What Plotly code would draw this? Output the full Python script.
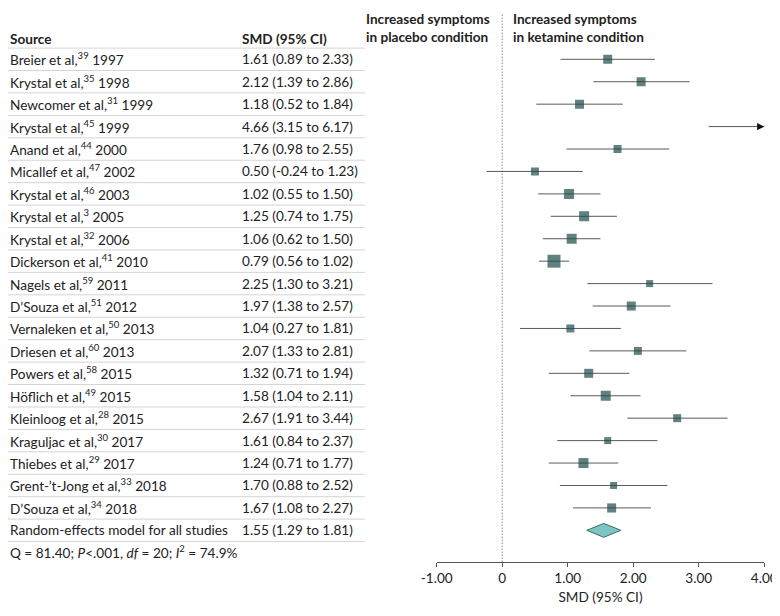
import plotly.graph_objects as go

# ---- data -------------------------------------------------------------
AUTHORS = [
    "Breier et al,", "Krystal et al,", "Newcomer et al,", "Krystal et al,",
    "Anand et al,", "Micallef et al,", "Krystal et al,", "Krystal et al,",
    "Krystal et al,", "Dickerson et al,", "Nagels et al,", "D\u2019Souza et al,",
    "Vernaleken et al,", "Driesen et al,", "Powers et al,", "H\u00f6flich et al,",
    "Kleinloog et al,", "Kraguljac et al,", "Thiebes et al,",
    "Grent-\u2019t-Jong et al,", "D\u2019Souza et al,",
]
REFS = ["39", "35", "31", "45", "44", "47", "46", "3", "32", "41", "59", "51",
        "50", "60", "58", "49", "28", "30", "29", "33", "34"]
YEARS = ["1997", "1998", "1999", "1999", "2000", "2002", "2003", "2005", "2006",
         "2010", "2011", "2012", "2013", "2013", "2015", "2015", "2015", "2017",
         "2017", "2018", "2018"]
SMD = [1.61, 2.12, 1.18, 4.66, 1.76, 0.50, 1.02, 1.25, 1.06, 0.79, 2.25, 1.97,
       1.04, 2.07, 1.32, 1.58, 2.67, 1.61, 1.24, 1.70, 1.67]
CI_LO = [0.89, 1.39, 0.52, 3.15, 0.98, -0.24, 0.55, 0.74, 0.62, 0.56, 1.30, 1.38,
         0.27, 1.33, 0.71, 1.04, 1.91, 0.84, 0.71, 0.88, 1.08]
CI_HI = [2.33, 2.86, 1.84, 6.17, 2.55, 1.23, 1.50, 1.75, 1.50, 1.02, 3.21, 2.57,
         1.81, 2.81, 1.94, 2.11, 3.44, 2.37, 1.77, 2.52, 2.27]
# square size (study weight), px
WEIGHT_PX = [9, 9, 9, 8, 8, 8, 10, 10, 10, 13, 7, 9, 8, 8, 9, 10, 8, 7, 10, 7, 9]

POOLED = ("Random-effects model for all studies", 1.55, 1.29, 1.81)
HETERO = "Q = 81.40; <i>P</i><.001, <i>df</i> = 20; <i>I</i><sup>2</sup> = 74.9%"

TICK_VALS = [-1, 0, 1, 2, 3, 4]
TICK_TEXT = ["-1.00", "0", "1.00", "2.00", "3.00", "4.00"]
X_MIN, X_MAX = -1, 4

# ---- style ------------------------------------------------------------
FONT = "Lato"
FS = 13.6
TXT = "#222222"
SQ_COLOR = "#1e4c4c"
CI_COLOR = "#5a5a5a"

# the page body has an 8px margin, so the figure is drawn 8px in
OFF = 8
W, H = 780 - OFF, 616 - OFF

ROW_TOP_PX, ROW_PX = 59.3, 22.43       # centre of first row, row pitch (page px)
AXIS_PX = 561.7                          # x-axis line (page px)


def px_x(p):
    return (p - OFF) / W


def px_y(p):
    return 1 - (p - OFF) / H


def px_to_row(p):
    return (p - ROW_TOP_PX) / ROW_PX


n = len(SMD)
pooled_row = n

fig = go.Figure()

# CI lines (anything past the axis end is clipped by the plot area)
xs, ys = [], []
for i in range(n):
    xs += [CI_LO[i], CI_HI[i], None]
    ys += [i, i, None]
fig.add_trace(go.Scatter(x=xs, y=ys, mode="lines",
                         line=dict(color=CI_COLOR, width=1),
                         hoverinfo="skip", showlegend=False))

fig.add_trace(go.Scatter(
    x=SMD, y=list(range(n)), mode="markers",
    marker=dict(symbol="square", size=WEIGHT_PX, color=SQ_COLOR,
                line=dict(width=0)),
    showlegend=False, cliponaxis=True,
    hovertemplate="SMD = %{x:.2f}<extra></extra>",
))

# pooled diamond
_, est, lo, hi = POOLED
half = 0.31
fig.add_trace(go.Scatter(
    x=[lo, est, hi, est, lo],
    y=[pooled_row, pooled_row - half, pooled_row, pooled_row + half, pooled_row],
    mode="lines", fill="toself", fillcolor="#7cc5c3",
    line=dict(color="#3c6b6b", width=1),
    hoverinfo="skip", showlegend=False,
))

annotations = []
shapes = []

# arrowheads for CIs that run past the axis
for i in range(n):
    if CI_HI[i] > X_MAX:
        annotations.append(dict(
            x=X_MAX, y=i, xref="x", yref="y", ax=-7, ay=0,
            text="", showarrow=True,
            arrowhead=2, arrowsize=1.2, arrowwidth=1.2, arrowcolor="#111111",
        ))

# zero line (dotted)
shapes.append(dict(type="line", xref="x", yref="paper", x0=0, x1=0,
                   y0=px_y(AXIS_PX), y1=px_y(13),
                   line=dict(color="#555555", width=1, dash="1px,2px")))

# table
COL1, COL2, TABLE_R = px_x(OFF), px_x(240), px_x(365)
base = dict(xref="paper", yref="y", showarrow=False, xanchor="left",
            yanchor="middle", font=dict(family=FONT, size=FS, color=TXT))

annotations.append(dict(base, x=COL1, y=-0.9, text="<b>Source</b>"))
annotations.append(dict(base, x=COL2, y=-0.9, text="<b>SMD (95% CI)</b>"))

for i in range(n):
    annotations.append(dict(base, x=COL1, y=i,
                            text=f"{AUTHORS[i]}<sup>{REFS[i]}</sup> {YEARS[i]}"))
    annotations.append(dict(base, x=COL2, y=i,
                            text=f"{SMD[i]:.2f} ({CI_LO[i]:.2f} to {CI_HI[i]:.2f})"))
annotations.append(dict(base, x=COL1, y=pooled_row, text=POOLED[0]))
annotations.append(dict(base, x=COL2, y=pooled_row,
                        text=f"{est:.2f} ({lo:.2f} to {hi:.2f})"))
annotations.append(dict(base, x=COL1, y=pooled_row + 0.95, text=HETERO))

for k in range(-1, n + 1):
    shapes.append(dict(type="line", xref="paper", yref="y", x0=0, x1=TABLE_R,
                       y0=k + 0.5, y1=k + 0.5,
                       line=dict(color="#d4d4d4", width=1)))

# direction labels
hdr_font = dict(family=FONT, size=FS, color=TXT)
annotations.append(dict(xref="paper", yref="paper", x=px_x(492), y=px_y(27.5),
                        xanchor="right", yanchor="middle", align="left",
                        showarrow=False, font=hdr_font,
                        text="<b>Increased symptoms<br>in placebo condition</b>"))
annotations.append(dict(xref="paper", yref="paper", x=px_x(511), y=px_y(27.5),
                        xanchor="left", yanchor="middle", align="left",
                        showarrow=False, font=hdr_font,
                        text="<b>Increased symptoms<br>in ketamine condition</b>"))

fig.update_layout(
    width=W, height=H,
    margin=dict(l=0, r=0, t=0, b=0, pad=0, autoexpand=False),
    plot_bgcolor="white", paper_bgcolor="white",
    font=dict(family=FONT, size=FS, color=TXT),
    xaxis=dict(domain=[px_x(436.7), px_x(764.3)], range=[X_MIN, X_MAX],
               tickvals=TICK_VALS, ticktext=TICK_TEXT,
               ticks="outside", ticklen=4, tickcolor="#555555",
               showline=True, linecolor="#555555", linewidth=1,
               showgrid=False, zeroline=False, automargin=False,
               tickfont=dict(family=FONT, size=FS, color=TXT),
               title=dict(text="SMD (95% CI)", standoff=7,
                          font=dict(family=FONT, size=FS, color=TXT))),
    yaxis=dict(domain=[px_y(AXIS_PX), 1],
               range=[px_to_row(AXIS_PX), px_to_row(OFF)],
               visible=False, automargin=False),
    shapes=shapes,
    annotations=annotations,
)

fig.write_html("out.html")
